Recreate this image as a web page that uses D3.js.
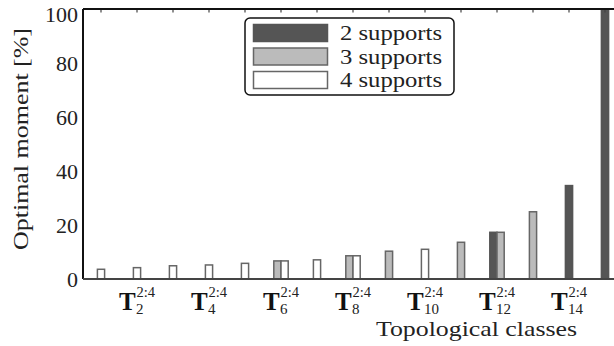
<!DOCTYPE html>
<html>
<head>
<meta charset="utf-8">
<script src="https://cdn.jsdelivr.net/npm/d3@7"></script>
<style>
  body { margin: 0; background: #fff; }
  text { font-family: "Liberation Serif", serif; }
</style>
</head>
<body>
<svg width="614" height="346"></svg>
<script>
// Optimal moment per topological class, one array per number of supports

const categories = ["1","2","3","4","5","6","7","8","9","10","11","12","13","14","15"];
const labeledClasses = ["2","4","6","8","10","12","14"];
const yTicks = [0, 20, 40, 60, 80, 100];

const supports2 = [null, null, null, null, null, null, null, null, null, null, null, 17.3, null, 34.6, 100];
const supports3 = [null, null, null, null, null, 6.7, null, 8.6, 10.3, null, 13.6, 17.3, 24.9, null, null];
const supports4 = [3.6, 4.2, 4.9, 5.2, 5.8, 6.7, 7.1, 8.6, null, 11.0, null, null, null, null, null];

const seriesNames = ["2 supports", "3 supports", "4 supports"];
const seriesValues = [supports2, supports3, supports4];
const fills = ["#555555", "#bbbbbb", "#ffffff"];
const strokes = ["#555555", "#666666", "#666666"];

var svg = d3.select("svg"),
    plotLeft = 83, plotTop = 9,
    plotBottom = 279,
    step = 36;

var xScale = d3.scaleBand()
    .domain(categories)
    .range([plotLeft, plotLeft + step * categories.length])
    .padding(0);
var yScale = d3.scaleLinear().domain([0, 100]).range([plotBottom, plotTop]);

var barW = xScale.bandwidth() * 0.2;

// build bars: bars in one class sit side by side, centered on the class
var bars = [];
categories.forEach(function(c, i) {
    var present = [];
    seriesValues.forEach(function(vals, s) {
        if (vals[i] != null) present.push({cat: c, s: s, v: vals[i]});
    });
    present.forEach(function(d, k) {
        d.offset = (k - present.length / 2) * barW;
        bars.push(d);
    });
});

var center = function(c) { return xScale(c) + xScale.bandwidth() / 2; };

svg.append("g").selectAll("rect")
    .data(bars)
    .enter()
    .append("rect")
    .attr("x", function(d) { return center(d.cat) + d.offset; })
    .attr("y", function(d) { return yScale(d.v); })
    .attr("width", barW)
    .attr("height", function(d) { return yScale(0) - yScale(d.v); })
    .attr("fill", function(d) { return fills[d.s]; })
    .attr("stroke", function(d) { return strokes[d.s]; })
    .attr("stroke-width", 1.5);

// top ticks, pointing inward
svg.append("g").selectAll("line")
    .data(categories)
    .enter()
    .append("line")
    .attr("x1", center).attr("x2", center)
    .attr("y1", plotTop).attr("y2", plotTop + 3.5)
    .attr("stroke", "#444")
    .attr("stroke-width", 1.2);

// spines
svg.append("line").attr("x1", plotLeft).attr("x2", 614).attr("y1", plotTop).attr("y2", plotTop)
    .attr("stroke", "#111").attr("stroke-width", 2);
svg.append("line").attr("x1", plotLeft).attr("x2", plotLeft).attr("y1", plotTop).attr("y2", plotBottom)
    .attr("stroke", "#111").attr("stroke-width", 2);
svg.append("line").attr("x1", plotLeft).attr("x2", 614).attr("y1", plotBottom).attr("y2", plotBottom)
    .attr("stroke", "#444").attr("stroke-width", 2);

// y axis labels
var yAxis = svg.append("g")
    .attr("transform", "translate(" + plotLeft + ",0)")
    .call(d3.axisLeft(yScale).tickValues(yTicks).tickSize(0).tickPadding(5));
yAxis.select(".domain").remove();
yAxis.selectAll("text")
    .style("font-family", "Liberation Serif, serif")
    .style("font-size", "22px")
    .attr("fill", "#222")
    .attr("dy", function(d) { return d == 100 ? "0.55em" : "0.32em"; });

// x tick labels: bold T with subscript class number and superscript 2:4
var xl = svg.append("g").selectAll("text")
    .data(labeledClasses)
    .enter()
    .append("text")
    .attr("fill", "#222");
xl.append("tspan")
    .attr("x", function(d) { return center(d) - 18; }).attr("y", 310)
    .style("font-size", "25px").style("font-weight", "bold")
    .attr("fill", "#111")
    .text("T");
xl.append("tspan")
    .attr("x", function(d) { return center(d) - 1; }).attr("y", 314)
    .style("font-size", "15px")
    .text(function(d) { return d; });
xl.append("tspan")
    .attr("x", function(d) { return center(d) - 0.5; }).attr("y", 296.5)
    .style("font-size", "14.5px")
    .text("2:4");

// axis titles
svg.append("text")
    .attr("x", 376).attr("y", 336)
    .attr("textLength", 201).attr("lengthAdjust", "spacingAndGlyphs")
    .style("font-size", "22px").attr("fill", "#222")
    .text("Topological classes");
svg.append("text")
    .attr("transform", "translate(28,250) rotate(-90)")
    .attr("textLength", 222).attr("lengthAdjust", "spacingAndGlyphs")
    .style("font-size", "22px").attr("fill", "#222")
    .text("Optimal moment [%]");

// legend
var lg = svg.append("g");
lg.append("rect")
    .attr("x", 245).attr("y", 18).attr("width", 209).attr("height", 77)
    .attr("rx", 5).attr("fill", "#fff").attr("stroke", "#111").attr("stroke-width", 1.5);
var items = lg.selectAll("g.item")
    .data(seriesNames)
    .enter()
    .append("g")
    .attr("class", "item")
    .attr("transform", function(d, i) { return "translate(0," + (24 + i * 23.5) + ")"; });
items.append("rect")
    .attr("x", 253.5).attr("y", 0.5).attr("width", 74).attr("height", 17)
    .attr("fill", function(d, i) { return fills[i]; })
    .attr("stroke", function(d, i) { return strokes[i]; })
    .attr("stroke-width", 1.5);
items.append("text")
    .attr("x", 340).attr("y", 16)
    .attr("textLength", 102).attr("lengthAdjust", "spacingAndGlyphs")
    .style("font-size", "22px").attr("fill", "#222")
    .text(function(d) { return d; });
</script>
</body>
</html>
